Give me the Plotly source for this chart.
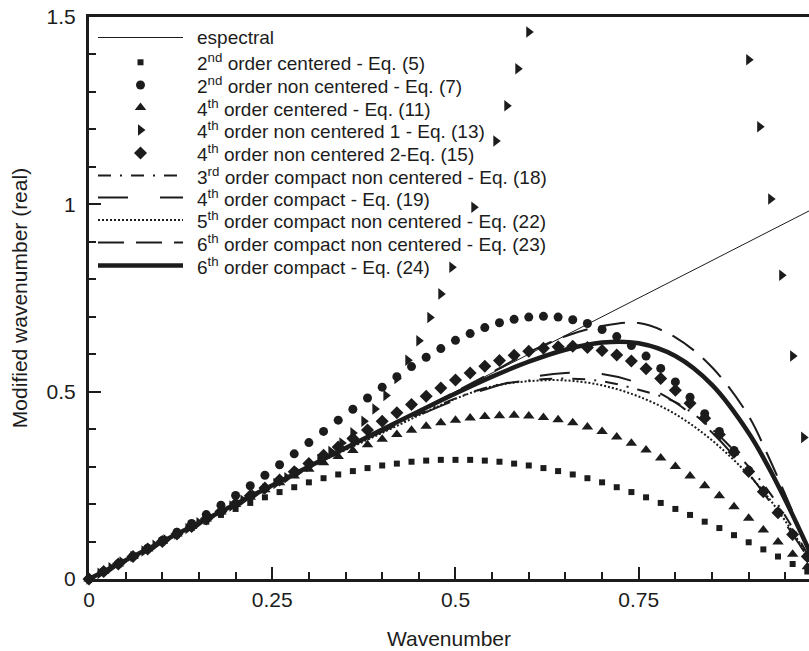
import plotly.graph_objects as go

# ---------------- data ----------------
wn = [0.00, 0.02, 0.04, 0.06, 0.08, 0.10, 0.12, 0.14, 0.16, 0.18,
      0.20, 0.22, 0.24, 0.26, 0.28, 0.30, 0.32, 0.34, 0.36, 0.38,
      0.40, 0.42, 0.44, 0.46, 0.48, 0.50, 0.52, 0.54, 0.56, 0.58,
      0.60, 0.62, 0.64, 0.66, 0.68, 0.70, 0.72, 0.74, 0.76, 0.78,
      0.80, 0.82, 0.84, 0.86, 0.88, 0.90, 0.92, 0.94, 0.96, 0.98]

c2_y = [0, .020, .040, .060, .079, .098, .117, .136, .153, .171,
        .187, .203, .218, .232, .245, .258, .269, .279, .288, .296,
        .303, .308, .313, .316, .318, .318, .318, .316, .313, .308,
        .303, .296, .288, .279, .269, .258, .245, .232, .218, .203,
        .187, .171, .153, .136, .117, .098, .079, .060, .040, .020]

nc2_y = [0, .020, .040, .061, .082, .103, .125, .148, .172, .197,
         .223, .249, .277, .305, .334, .364, .394, .424, .453, .483,
         .512, .540, .567, .592, .615, .637, .655, .671, .684, .693,
         .699, .701, .699, .692, .682, .666, .647, .623, .595, .562,
         .526, .485, .441, .394, .343, .290, .235, .178, .119, .060]

c4_y = [0, .020, .040, .060, .080, .100, .120, .140, .160, .179,
        .199, .218, .238, .257, .275, .293, .310, .327, .343, .358,
        .373, .386, .397, .408, .417, .424, .430, .434, .436, .437,
        .435, .431, .425, .417, .406, .394, .379, .362, .344, .323,
        .300, .275, .249, .222, .193, .162, .131, .099, .066, .033]

nc4b_y = [0, .020, .040, .060, .080, .100, .120, .140, .160, .180,
          .201, .222, .243, .264, .286, .308, .330, .352, .375, .398,
          .421, .444, .466, .488, .510, .531, .550, .568, .583, .597,
          .608, .616, .620, .621, .618, .610, .598, .582, .561, .535,
          .504, .469, .429, .386, .338, .287, .233, .177, .119, .060]

# 4th order non centered 1: only the points visible in the picture
nc4a_x = [0, .015, .03, .045, .06, .075, .09, .105, .12, .135,
          .15, .165, .18, .195, .21, .225, .24, .255, .27, .285,
          .30, .315, .33, .345, .36, .375, .39, .405, .42, .435,
          .45, .465, .48, .495, .525, .555, .57, .585,
          .60, .90, .915, .93, .945, .96, .975]
nc4a_y = [0, .015, .03, .045, .06, .075, .09, .105, .12, .135,
          .15, .165, .18, .195, .21, .225, .24, .255, .27, .285,
          .30, .319, .340, .363, .390, .421, .454, .490, .535, .584,
          .636, .698, .761, .832, .992, 1.169, 1.263, 1.362,
          1.460, 1.386, 1.207, 1.014, 0.811, 0.595, 0.378]

spectral_x = [0, 1]
spectral_y = [0, 1]

line_x = [0, 0.1, 0.2, 0.3, 0.4, 0.5, 0.55, 0.6, 0.65, 0.7,
          0.75, 0.8, 0.85, 0.9, 0.925, 0.95, 0.975, 1.0]
cnc3_y = [0, .100, .200, .299, .395, .482, .515, .530, .535, .528,
          .505, .472, .400, .300, .240, .168, .085, 0]
cc4_y = [0, .100, .200, .2985, .393, .4775, .512, .537, .550, .547,
         .522, .471, .391, .281, .217, .148, .075, 0]
cnc5_y = [0, .100, .200, .298, .390, .481, .514, .528, .530, .517,
          .487, .440, .370, .278, .222, .155, .080, 0]
cnc6_y = [0, .100, .200, .300, .400, .500, .552, .605, .648, .675,
          .683, .645, .565, .435, .335, .225, .110, 0]
cc6_y = [0, .100, .200, .300, .399, .495, .540, .580, .612, .631,
         .629, .595, .518, .390, .306, .211, .108, 0]

x_ticks = [0, 0.25, 0.5, 0.75]
x_tick_labels = ["0", "0.25", "0.5", "0.75"]
y_ticks = [0, 0.5, 1, 1.5]
y_tick_labels = ["0", "0.5", "1", "1.5"]

labels = [
    "espectral",
    "2<sup>nd</sup> order centered - Eq. (5)",
    "2<sup>nd</sup> order non centered - Eq. (7)",
    "4<sup>th</sup> order centered - Eq. (11)",
    "4<sup>th</sup> order non centered 1 - Eq. (13)",
    "4<sup>th</sup> order non centered 2-Eq. (15)",
    "3<sup>rd</sup> order compact non centered - Eq. (18)",
    "4<sup>th</sup> order compact - Eq. (19)",
    "5<sup>th</sup> order compact non centered - Eq. (22)",
    "6<sup>th</sup> order compact non centered - Eq. (23)",
    "6<sup>th</sup> order compact - Eq. (24)",
]

# ---------------- styles ----------------
INK = "#1c1c1c"
FONT = "Liberation Sans, Arial, Helvetica, sans-serif"

styles = [
    dict(kind="line", line=dict(color=INK, width=1)),
    dict(kind="marker", marker=dict(symbol="square", size=6, color=INK)),
    dict(kind="marker", marker=dict(symbol="circle", size=9, color=INK)),
    dict(kind="marker", marker=dict(symbol="triangle-up", size=10, color=INK)),
    dict(kind="marker", marker=dict(symbol="triangle-right", size=10, color=INK)),
    dict(kind="marker", marker=dict(symbol="diamond", size=10, color=INK)),
    dict(kind="line", line=dict(color=INK, width=2, dash="13px,9px,2px,9px")),
    dict(kind="line", line=dict(color=INK, width=2, dash="30px,32px")),
    dict(kind="line", line=dict(color=INK, width=2, dash="2px,2px")),
    dict(kind="line", line=dict(color=INK, width=2, dash="26px,12px")),
    dict(kind="line", line=dict(color=INK, width=4.5)),
]

series = [
    (spectral_x, spectral_y),
    (wn, c2_y),
    (wn, nc2_y),
    (wn, c4_y),
    (nc4a_x, nc4a_y),
    (wn, nc4b_y),
    (line_x, cnc3_y),
    (line_x, cc4_y),
    (line_x, cnc5_y),
    (line_x, cnc6_y),
    (line_x, cc6_y),
]

fig = go.Figure()

for (xs, ys), st, name in zip(series, styles, labels):
    if st["kind"] == "line":
        shape = "linear" if len(xs) == 2 else "spline"
        fig.add_trace(go.Scatter(x=xs, y=ys, mode="lines", name=name,
                                 line=dict(**st["line"], shape=shape),
                                 showlegend=False, hoverinfo="skip"))
    else:
        fig.add_trace(go.Scatter(x=xs, y=ys, mode="markers", name=name,
                                 marker=st["marker"], cliponaxis=False,
                                 showlegend=False, hoverinfo="skip"))

# ---------------- hand-drawn legend (pixel-like overlay axes) ----------------
PL, PR, PT, PB = 89, 809, 17, 579
leg_rows = [37.5, 62.3, 85, 107.5, 130, 153, 175.5, 197.5, 220, 242.5, 265.5]
sample_x0, sample_x1, sample_mid, text_x = 98, 183, 140.5, 195

for row_y, st, name in zip(leg_rows, styles, labels):
    if st["kind"] == "line":
        fig.add_trace(go.Scatter(x=[sample_x0, sample_x1], y=[row_y, row_y],
                                 mode="lines", line=st["line"],
                                 xaxis="x2", yaxis="y2",
                                 showlegend=False, hoverinfo="skip"))
    else:
        fig.add_trace(go.Scatter(x=[sample_mid], y=[row_y], mode="markers",
                                 marker=st["marker"], xaxis="x2", yaxis="y2",
                                 cliponaxis=False,
                                 showlegend=False, hoverinfo="skip"))
    fig.add_annotation(x=text_x, y=row_y, xref="x2", yref="y2", text=name,
                       showarrow=False, xanchor="left", yanchor="middle",
                       font=dict(family=FONT, size=19, color=INK))

axis_common = dict(showgrid=False, zeroline=False, showline=True,
                   linecolor=INK, linewidth=3, ticks="inside", ticklen=12,
                   tickwidth=2, tickcolor=INK,
                   tickfont=dict(family=FONT, size=21, color=INK))

fig.update_layout(
    width=809, height=651,
    margin=dict(l=PL, r=809 - PR, t=PT, b=651 - PB, pad=0),
    paper_bgcolor="white", plot_bgcolor="white",
    showlegend=False,
    xaxis=dict(range=[0, 0.9823], tickvals=x_ticks, ticktext=x_tick_labels,
               mirror=True, automargin=False,
               minor=dict(dtick=0.05, tick0=0, ticks="inside", ticklen=7,
                          tickwidth=1.5, tickcolor=INK),
               title=dict(text="Wavenumber",
                          font=dict(family=FONT, size=21, color=INK),
                          standoff=22),
               **axis_common),
    yaxis=dict(range=[0, 1.5], tickvals=y_ticks, ticktext=y_tick_labels,
               automargin=False, ticklabelstandoff=6,
               minor=dict(dtick=0.1, tick0=0, ticks="inside", ticklen=7,
                          tickwidth=1.5, tickcolor=INK),
               title=dict(text="Modified wavenumber (real)",
                          font=dict(family=FONT, size=21, color=INK),
                          standoff=14),
               **axis_common),
    xaxis2=dict(range=[PL, PR], overlaying="x", anchor="y2", visible=False,
                fixedrange=True),
    yaxis2=dict(range=[PB, PT], overlaying="y", anchor="x2", visible=False,
                fixedrange=True),
)

fig.write_html("out.html")
